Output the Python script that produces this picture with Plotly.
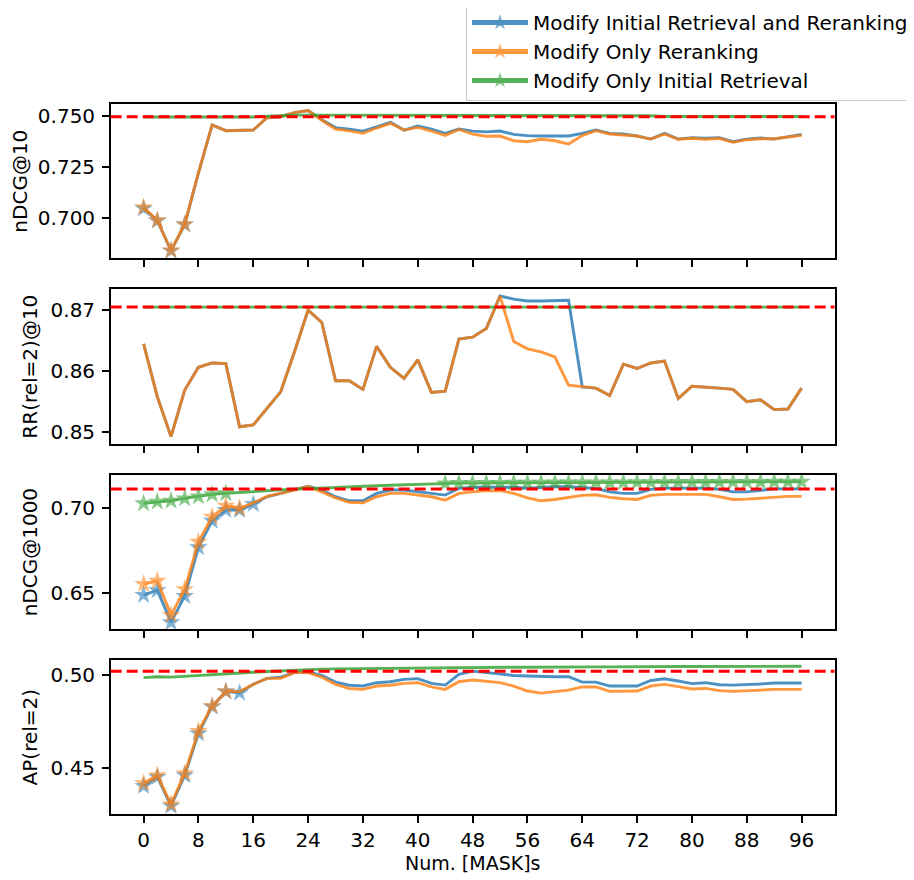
import plotly.graph_objects as go

# ---------------- data ----------------
x_vals = list(range(0, 97, 2))  # Num. [MASK]s
series_names = ["Modify Initial Retrieval and Reranking", "Modify Only Reranking", "Modify Only Initial Retrieval"]
series_colors = ["#1f77b4", "#ff7f0e", "#2ca02c"]
metric_names = ["nDCG@10", "RR(rel=2)@10", "nDCG@1000", "AP(rel=2)"]
x_title = "Num. [MASK]s"
baselines = [0.7495, 0.8704, 0.7115, 0.5020]

ndcg10_both = [0.7048, 0.6988, 0.6842, 0.6969, 0.7220, 0.7455, 0.7427, 0.7427, 0.7430, 0.7490,
               0.7495, 0.7515, 0.7525, 0.7480, 0.7442, 0.7434, 0.7425, 0.7446, 0.7468, 0.7430,
               0.7450, 0.7435, 0.7414, 0.7435, 0.7425, 0.7421, 0.7425, 0.7409, 0.7403, 0.7401,
               0.7401, 0.7401, 0.7414, 0.7430, 0.7414, 0.7411, 0.7401, 0.7386, 0.7414, 0.7386,
               0.7393, 0.7390, 0.7393, 0.7373, 0.7386, 0.7391, 0.7386, 0.7398, 0.7409]
ndcg10_rerank = [0.7054, 0.6990, 0.6843, 0.6971, 0.7222, 0.7455, 0.7427, 0.7427, 0.7430, 0.7490,
                 0.7495, 0.7515, 0.7525, 0.7478, 0.7435, 0.7426, 0.7414, 0.7440, 0.7463, 0.7430,
                 0.7443, 0.7425, 0.7404, 0.7433, 0.7410, 0.7400, 0.7401, 0.7378, 0.7373, 0.7385,
                 0.7378, 0.7362, 0.7403, 0.7427, 0.7411, 0.7406, 0.7401, 0.7386, 0.7411, 0.7385,
                 0.7390, 0.7385, 0.7390, 0.7370, 0.7383, 0.7388, 0.7388, 0.7396, 0.7404]
ndcg10_retrieval = [0.7494, 0.7494, 0.7494, 0.7494, 0.7494, 0.7494, 0.7494, 0.7494, 0.7494, 0.7498,
                    0.7502, 0.7503, 0.7503, 0.7503, 0.7503, 0.7503, 0.7503, 0.7503, 0.7503, 0.7503,
                    0.7503, 0.7503, 0.7503, 0.7503, 0.7503, 0.7503, 0.7503, 0.7503, 0.7503, 0.7503,
                    0.7503, 0.7503, 0.7503, 0.7503, 0.7503, 0.7503, 0.7503, 0.7500, 0.7496, 0.7496,
                    0.7496, 0.7496, 0.7496, 0.7496, 0.7496, 0.7496, 0.7496, 0.7496, 0.7496]

rr_both = [0.8644, 0.8558, 0.8493, 0.8569, 0.8606, 0.8613, 0.8612, 0.8509, 0.8512, 0.8539,
           0.8566, 0.8631, 0.8699, 0.8679, 0.8584, 0.8584, 0.8570, 0.8640, 0.8606, 0.8588,
           0.8618, 0.8565, 0.8567, 0.8652, 0.8655, 0.8669, 0.8722, 0.8717, 0.8714, 0.8714,
           0.8714, 0.8715, 0.8574, 0.8572, 0.8560, 0.8611, 0.8604, 0.8613, 0.8616, 0.8555,
           0.8575, 0.8574, 0.8572, 0.8570, 0.8550, 0.8553, 0.8537, 0.8538, 0.8572]
rr_rerank = [0.8644, 0.8558, 0.8493, 0.8569, 0.8606, 0.8613, 0.8612, 0.8509, 0.8512, 0.8539,
             0.8566, 0.8631, 0.8699, 0.8679, 0.8584, 0.8584, 0.8570, 0.8640, 0.8606, 0.8588,
             0.8618, 0.8565, 0.8567, 0.8652, 0.8655, 0.8669, 0.8722, 0.8648, 0.8636, 0.8631,
             0.8623, 0.8577, 0.8574, 0.8572, 0.8560, 0.8611, 0.8604, 0.8613, 0.8616, 0.8555,
             0.8575, 0.8574, 0.8572, 0.8570, 0.8550, 0.8553, 0.8537, 0.8538, 0.8572]
rr_retrieval = [0.8704] * 49

ndcg1000_both = [0.6486, 0.6515, 0.6324, 0.6480, 0.6769, 0.6926, 0.6990, 0.6990, 0.7026, 0.7069,
                 0.7089, 0.7109, 0.7132, 0.7109, 0.7069, 0.7045, 0.7045, 0.7089, 0.7109, 0.7109,
                 0.7098, 0.7089, 0.7079, 0.7119, 0.7125, 0.7125, 0.7125, 0.7125, 0.7119, 0.7125,
                 0.7128, 0.7128, 0.7125, 0.7119, 0.7098, 0.7089, 0.7089, 0.7113, 0.7120, 0.7120,
                 0.7120, 0.7120, 0.7113, 0.7098, 0.7098, 0.7109, 0.7116, 0.7116, 0.7116]
ndcg1000_rerank = [0.6551, 0.6571, 0.6367, 0.6520, 0.6802, 0.6950, 0.7015, 0.7000, 0.7033, 0.7071,
                   0.7089, 0.7109, 0.7129, 0.7098, 0.7063, 0.7036, 0.7033, 0.7069, 0.7089, 0.7089,
                   0.7079, 0.7069, 0.7049, 0.7089, 0.7098, 0.7105, 0.7105, 0.7089, 0.7062, 0.7045,
                   0.7053, 0.7063, 0.7077, 0.7081, 0.7065, 0.7057, 0.7053, 0.7077, 0.7083, 0.7083,
                   0.7083, 0.7083, 0.7069, 0.7053, 0.7055, 0.7061, 0.7067, 0.7071, 0.7071]
ndcg1000_retrieval = [0.7030, 0.7039, 0.7045, 0.7059, 0.7071, 0.7083, 0.7089, 0.7095, 0.7100, 0.7105,
                      0.7110, 0.7114, 0.7118, 0.7122, 0.7125, 0.7128, 0.7131, 0.7134, 0.7137, 0.7140,
                      0.7143, 0.7145, 0.7148, 0.7150, 0.7150, 0.7151, 0.7151, 0.7152, 0.7152, 0.7152,
                      0.7153, 0.7153, 0.7153, 0.7154, 0.7154, 0.7154, 0.7155, 0.7155, 0.7155, 0.7156,
                      0.7156, 0.7156, 0.7156, 0.7157, 0.7157, 0.7157, 0.7158, 0.7158, 0.7158]

ap_both = [0.4402, 0.4451, 0.4295, 0.4460, 0.4685, 0.4829, 0.4910, 0.4904, 0.4949, 0.4981,
           0.4988, 0.5012, 0.5015, 0.4997, 0.4961, 0.4944, 0.4940, 0.4958, 0.4963, 0.4976,
           0.4980, 0.4954, 0.4945, 0.5003, 0.5020, 0.5012, 0.5006, 0.4997, 0.4994, 0.4990,
           0.4990, 0.4990, 0.4961, 0.4961, 0.4940, 0.4940, 0.4940, 0.4970, 0.4979, 0.4967,
           0.4953, 0.4958, 0.4947, 0.4945, 0.4947, 0.4951, 0.4956, 0.4956, 0.4956]
ap_rerank = [0.4417, 0.4460, 0.4304, 0.4470, 0.4698, 0.4832, 0.4910, 0.4910, 0.4949, 0.4981,
             0.4981, 0.5012, 0.5012, 0.4988, 0.4949, 0.4927, 0.4922, 0.4940, 0.4944, 0.4954,
             0.4958, 0.4935, 0.4922, 0.4963, 0.4972, 0.4963, 0.4958, 0.4940, 0.4913, 0.4902,
             0.4910, 0.4918, 0.4935, 0.4935, 0.4911, 0.4913, 0.4913, 0.4940, 0.4949, 0.4937,
             0.4924, 0.4927, 0.4915, 0.4911, 0.4913, 0.4918, 0.4922, 0.4922, 0.4922]
ap_retrieval = [0.4985, 0.4990, 0.4988, 0.4993, 0.4997, 0.5002, 0.5007, 0.5011, 0.5014, 0.5018,
                0.5022, 0.5026, 0.5029, 0.5031, 0.5032, 0.5033, 0.5034, 0.5035, 0.5036, 0.5037,
                0.5037, 0.5038, 0.5038, 0.5039, 0.5039, 0.5040, 0.5040, 0.5041, 0.5041, 0.5042,
                0.5042, 0.5042, 0.5043, 0.5043, 0.5043, 0.5044, 0.5044, 0.5044, 0.5045, 0.5045,
                0.5045, 0.5045, 0.5046, 0.5046, 0.5046, 0.5046, 0.5046, 0.5046, 0.5046]

# x positions where a star marker is shown (significant difference)
sig_ndcg10 = [[0, 2, 4, 6], [0, 2, 4, 6], []]
sig_rr = [[], [], []]
sig_ndcg1000 = [list(range(0, 17, 2)), list(range(0, 15, 2)), list(range(0, 13, 2)) + list(range(44, 97, 2))]
sig_ap = [list(range(0, 15, 2)), list(range(0, 13, 2)), []]

panels = [
    ([ndcg10_both, ndcg10_rerank, ndcg10_retrieval], sig_ndcg10),
    ([rr_both, rr_rerank, rr_retrieval], sig_rr),
    ([ndcg1000_both, ndcg1000_rerank, ndcg1000_retrieval], sig_ndcg1000),
    ([ap_both, ap_rerank, ap_retrieval], sig_ap),
]

# ---------------- layout constants ----------------
OFF = 8  # page body margin
W, H = 914 - OFF, 880 - OFF
x_dom = [(110.7 - OFF) / W, (834.5 - OFF) / W]
panel_px = [(104.0, 258.3), (289.3, 444.0), (475.0, 629.3), (660.0, 814.3)]
y_ranges = [[0.6805, 0.7557], [0.8481, 0.8733], [0.6283, 0.7198], [0.4250, 0.5080]]
y_dticks = [0.025, 0.01, 0.05, 0.05]
y_formats = [".3f", ".2f", ".2f", ".2f"]
FONT = "DejaVu Sans"
FS = 20
LEGEND_PANEL = 2  # panel whose traces provide legend entries (all three have star markers there)

fig = go.Figure()
for p, (series, sigs) in enumerate(panels):
    xa = "x" if p == 0 else f"x{p+1}"
    ya = "y" if p == 0 else f"y{p+1}"
    for s in range(3):
        sizes = [14 if xv in sigs[s] else 0 for xv in x_vals]
        fig.add_trace(go.Scatter(
            x=x_vals, y=series[s], mode="lines+markers",
            name=series_names[s], showlegend=(p == LEGEND_PANEL),
            line=dict(color=series_colors[s], width=2.9),
            marker=dict(symbol="star", size=sizes, color=series_colors[s], line=dict(width=0)),
            opacity=0.8, xaxis=xa, yaxis=ya, hoverinfo="skip",
        ))
    fig.add_shape(type="line", xref=f"{xa} domain", yref=ya, x0=0, x1=1,
                  y0=baselines[p], y1=baselines[p],
                  line=dict(color="#ff0000", width=3, dash="11px,5px"), layer="above")

layout = dict(
    width=W, height=H, margin=dict(l=0, r=0, t=0, b=0, autoexpand=False),
    paper_bgcolor="white", plot_bgcolor="white",
    font=dict(family=FONT, size=FS, color="black"),
    legend=dict(x=1.0, xanchor="right", y=1 + 6.0 / H, yanchor="top",
                bgcolor="white", bordercolor="#cccccc", borderwidth=1,
                font=dict(family=FONT, size=FS), itemsizing="constant", itemwidth=56,
                tracegroupgap=0),
    annotations=[dict(text=x_title, xref="paper", yref="paper",
                      x=(x_dom[0] + x_dom[1]) / 2, y=1 - (863 - OFF) / H,
                      xanchor="center", yanchor="middle", showarrow=False,
                      font=dict(family=FONT, size=19, color="black"))],
)
for p in range(4):
    xk = "xaxis" if p == 0 else f"xaxis{p+1}"
    yk = "yaxis" if p == 0 else f"yaxis{p+1}"
    top, bot = panel_px[p]
    ya = "y" if p == 0 else f"y{p+1}"
    xa = "x" if p == 0 else f"x{p+1}"
    layout[xk] = dict(
        domain=x_dom, anchor=ya, range=[-4.8, 100.8], tickmode="array",
        tickvals=list(range(0, 97, 8)), showticklabels=(p == 3),
        ticks="outside", ticklen=6.8, tickwidth=1.6, tickcolor="black",
        showline=True, mirror=True, linecolor="black", linewidth=1.6,
        showgrid=False, zeroline=False, ticklabelstandoff=0,
        matches="x" if p > 0 else None,
    )
    layout[yk] = dict(
        domain=[1 - (bot - OFF) / H, 1 - (top - OFF) / H], anchor=xa, range=y_ranges[p],
        dtick=y_dticks[p], tick0=0, tickformat=y_formats[p],
        ticks="outside", ticklen=6.8, tickwidth=1.6, tickcolor="black",
        showline=True, mirror=True, linecolor="black", linewidth=1.6,
        showgrid=False, zeroline=False, ticklabelstandoff=3,
        title=dict(text=metric_names[p], standoff=8,
                   font=dict(family=FONT, size=FS, color="black")),
    )
fig.update_layout(**layout)
fig.write_html("out.html")
